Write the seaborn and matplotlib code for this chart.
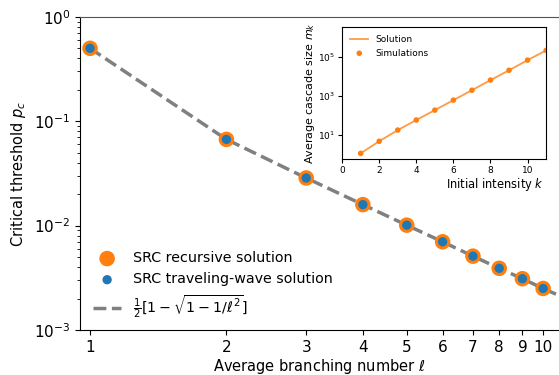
import numpy as np
import pandas as pd
import matplotlib
matplotlib.use("Agg")
import matplotlib.pyplot as plt
import seaborn as sns

# main panel data
ell = [1, 2, 3, 4, 5, 6, 7, 8, 9, 10]
pc_recursive = [0.5, 0.067, 0.0286, 0.0159, 0.0101, 0.0070, 0.0051, 0.0039, 0.0031, 0.0025]
pc_wave = [0.5, 0.067, 0.0286, 0.0159, 0.0101, 0.0070, 0.0051, 0.0039, 0.0031, 0.0025]
ell_line = [1, 2, 3, 4, 5, 6, 7, 8, 9, 10, 11]
pc_line = [0.5, 0.067, 0.0286, 0.0159, 0.0101, 0.0070, 0.0051, 0.0039, 0.0031, 0.0025, 0.00208]

# inset data
k_vals = [1, 2, 3, 4, 5, 6, 7, 8, 9, 10, 11]
m_k = [1.15, 4.8, 18, 59, 190, 620, 2000, 6600, 21000, 70000, 220000]

plt.rcParams['font.family'] = ['DejaVu Sans']

fig = plt.figure(figsize=(5.59, 3.75), dpi=100)
ax = fig.add_axes([0.143, 0.12, 0.857, 0.835])

df = pd.DataFrame({'ell': ell, 'rec': pc_recursive, 'wave': pc_wave})
dfl = pd.DataFrame({'ell': ell_line, 'pc': pc_line})

sns.scatterplot(data=df, x='ell', y='rec', ax=ax, color='#ff7f0e', s=125,
                edgecolor='none', label='SRC recursive solution', zorder=3)
sns.scatterplot(data=df, x='ell', y='wave', ax=ax, color='#1f77b4', s=45,
                edgecolor='none', label='SRC traveling-wave solution', zorder=4)
sns.lineplot(data=dfl, x='ell', y='pc', ax=ax, color='gray', lw=2.5,
             label=r'$\frac{1}{2}[1-\sqrt{1-1/\ell^2}]$', zorder=2)
ax.lines[-1].set_linestyle('--')

ax.set_xscale('log')
ax.set_yscale('log')
ax.set_xlim(0.95, 10.84)
ax.set_ylim(1e-3, 1)
ax.set_xticks(ell)
ax.set_xticklabels([str(v) for v in ell])
ax.xaxis.set_minor_locator(matplotlib.ticker.NullLocator())
ax.yaxis.set_minor_locator(matplotlib.ticker.LogLocator(base=10, subs=np.arange(2, 10)))
ax.yaxis.set_minor_formatter(matplotlib.ticker.NullFormatter())
ax.tick_params(axis='y', which='minor', length=2.5)
ax.tick_params(labelsize=11)
ax.set_xlabel(r'Average branching number $\ell$', fontsize=10.5, labelpad=2)
ax.set_ylabel(r'Critical threshold $p_c$', fontsize=10.5)
ax.spines['right'].set_visible(False)
ax.spines['top'].set_color('#555555')
ax.legend(loc='lower left', frameon=False, fontsize=10.3, bbox_to_anchor=(0.0, -0.01))

# inset
axi = fig.add_axes([0.612, 0.576, 0.365, 0.352])
dfi = pd.DataFrame({'k': k_vals, 'm': m_k})
sns.lineplot(data=dfi, x='k', y='m', ax=axi, color='#ff9a45', lw=1.3, label='Solution')
sns.scatterplot(data=dfi, x='k', y='m', ax=axi, color='#ff7f0e', s=16,
                edgecolor='none', label='Simulations', zorder=3)
axi.set_yscale('log')
axi.set_xlim(0, 11)
axi.set_ylim(0.59, 3.5e6)
axi.set_xticks([0, 2, 4, 6, 8, 10])
axi.set_yticks([1e1, 1e3, 1e5])
axi.yaxis.set_minor_locator(matplotlib.ticker.NullLocator())
axi.tick_params(labelsize=6.5, length=3, pad=2)
axi.set_xlabel(r'Initial intensity $k$', fontsize=8.3)
axi.xaxis.set_label_coords(0.75, -0.13)
axi.set_ylabel(r'Average cascade size $m_k$', fontsize=8, labelpad=1)
axi.legend(loc='upper left', frameon=False, fontsize=6.5)

fig.savefig('out.png', dpi=100)
